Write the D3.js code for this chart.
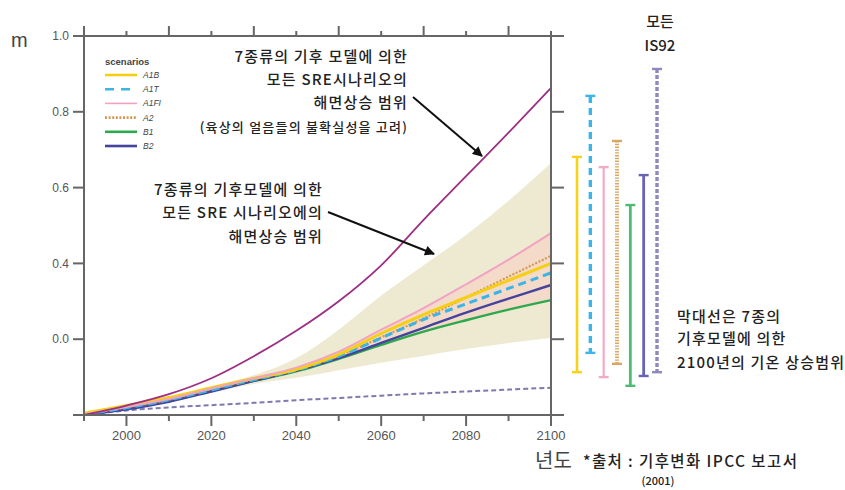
<!DOCTYPE html>
<html>
<head>
<meta charset="utf-8">
<script src="https://cdn.jsdelivr.net/npm/d3@7"></script>
<style>
  html, body { margin: 0; padding: 0; background: #fff; }
  svg { display: block; font-family: "Noto Sans CJK KR", "Noto Sans", sans-serif; }
</style>
</head>
<body>
<svg id="chart" width="845" height="490"></svg>
<script>
// values (metres), one point every 10 years
const years = [1990, 2000, 2010, 2020, 2030, 2040, 2050, 2060, 2070, 2080, 2090, 2100];
const allUpper = [0, 0.025, 0.055, 0.097, 0.155, 0.222, 0.30, 0.395, 0.515, 0.63, 0.745, 0.863];
const bandUpper = [0.004, 0.022, 0.045, 0.075, 0.105, 0.15, 0.225, 0.315, 0.395, 0.475, 0.565, 0.665];
const bandLower = [0, 0.014, 0.033, 0.058, 0.082, 0.098, 0.118, 0.138, 0.156, 0.174, 0.19, 0.203];
const is92Low = [0, 0.012, 0.02, 0.026, 0.032, 0.039, 0.045, 0.051, 0.057, 0.062, 0.067, 0.072];

const scenarioNames = ["A1B", "A1T", "A1FI", "A2", "B1", "B2"];
const a1b = [0.005, 0.025, 0.046, 0.072, 0.097, 0.12, 0.16, 0.215, 0.265, 0.31, 0.355, 0.40];
const a1t = [0.002, 0.019, 0.04, 0.066, 0.093, 0.118, 0.155, 0.203, 0.252, 0.293, 0.334, 0.375];
const a1fi = [0.002, 0.021, 0.042, 0.07, 0.097, 0.125, 0.167, 0.225, 0.282, 0.345, 0.41, 0.48];
const a2 = [0.002, 0.02, 0.04, 0.068, 0.094, 0.12, 0.155, 0.205, 0.255, 0.31, 0.365, 0.42];
const b1 = [0, 0.017, 0.038, 0.064, 0.09, 0.115, 0.148, 0.185, 0.22, 0.25, 0.278, 0.303];
const b2 = [0, 0.015, 0.035, 0.062, 0.09, 0.117, 0.15, 0.19, 0.23, 0.27, 0.307, 0.343];
const scenarioValues = [a1b, a1t, a1fi, a2, b1, b2];

// 2100 ranges shown as bars to the right of the plot
const rangeNames = ["A1B", "A1T", "A1FI", "A2", "B1", "B2", "IS92"];
const rangeHigh = [0.681, 0.842, 0.654, 0.723, 0.554, 0.633, 0.913];
const rangeLow = [0.113, 0.164, 0.100, 0.135, 0.077, 0.103, 0.113];

const yTicks = [0, 0.2, 0.4, 0.6, 0.8, 1.0];
const yTickLabels = ["", "0.0", "0.4", "0.6", "0.8", "1.0"];
const xTickMajor = [2000, 2020, 2040, 2060, 2080, 2100];
const xTickMinor = [1990, 2010, 2030, 2050, 2070, 2090];

const style = {
  A1B:  { color: "#f5cf12", width: 3,   dash: null,  barColor: "#f7d21a", barWidth: 2.6, barDash: null },
  A1T:  { color: "#3bb4e6", width: 3,   dash: "8 5", barColor: "#3ab6ea", barWidth: 3.4, barDash: "7 5" },
  A1FI: { color: "#f2a2c2", width: 2,   dash: null,  barColor: "#f4a9c6", barWidth: 2.2, barDash: null },
  A2:   { color: "#d49a55", width: 2.2, dash: "2 1.6", barColor: "#d8a766", barWidth: 4, barDash: "1.4 1.4" },
  B1:   { color: "#2ea84e", width: 2.4, dash: null,  barColor: "#4dbb72", barWidth: 2.8, barDash: null },
  B2:   { color: "#44449e", width: 2.4, dash: null,  barColor: "#6764b4", barWidth: 2.8, barDash: null },
  IS92: { color: "#7f79b0", width: 2,   dash: "5 3", barColor: "#8d89ba", barWidth: 3.4, barDash: "4 2" }
};

const svg = d3.select("#chart");
const x = d3.scaleLinear().domain([1990, 2100]).range([84, 551]);
const y = d3.scaleLinear().domain([0, 1]).range([415, 36]);
const barX = d3.scalePoint().domain(rangeNames).range([577, 657]);
const axisColor = "#666";
const textColor = "#222";

const idx = d3.range(years.length);
const curve = d3.curveCatmullRom.alpha(0.5);
const line = vals => d3.line().x(i => x(years[i])).y(i => y(vals[i])).curve(curve)(idx);

// outer model band
svg.append("path")
  .attr("d", d3.area().x(i => x(years[i])).y0(i => y(bandLower[i])).y1(i => y(bandUpper[i]))
    .curve(curve)(idx))
  .attr("fill", "#eeead2");

// inner band between highest and lowest scenario from 2030 on
const inner = idx.filter(i => years[i] >= 2030);
svg.append("path")
  .attr("d", d3.area().x(i => x(years[i]))
    .y0(i => y(d3.min(scenarioValues, v => v[i])))
    .y1(i => y(d3.max(scenarioValues, v => v[i])))
    .curve(curve)(inner))
  .attr("fill", "#f4dac8");

svg.append("path").attr("d", line(is92Low))
  .attr("fill", "none").attr("stroke", style.IS92.color)
  .attr("stroke-width", style.IS92.width).attr("stroke-dasharray", style.IS92.dash);

const drawOrder = ["B1", "B2", "A2", "A1T", "A1B", "A1FI"];
drawOrder.forEach(name => {
  const s = style[name];
  svg.append("path").attr("d", line(scenarioValues[scenarioNames.indexOf(name)]))
    .attr("fill", "none").attr("stroke", s.color).attr("stroke-width", s.width)
    .attr("stroke-dasharray", s.dash);
});

svg.append("path").attr("d", line(allUpper))
  .attr("fill", "none").attr("stroke", "#9c2f84").attr("stroke-width", 1.8);

// frame + ticks
const g = svg.append("g").attr("stroke", axisColor).attr("stroke-width", 2);
g.append("rect").attr("x", x(1990)).attr("y", y(1)).attr("width", x(2100) - x(1990))
  .attr("height", y(0) - y(1)).attr("fill", "none");
yTicks.forEach(v => {
  g.append("line").attr("x1", x(1990) - 11).attr("x2", x(1990)).attr("y1", y(v)).attr("y2", y(v));
  g.append("line").attr("x1", x(2100)).attr("x2", x(2100) + 13).attr("y1", y(v)).attr("y2", y(v));
});
xTickMajor.forEach(t => {
  g.append("line").attr("x1", x(t)).attr("x2", x(t)).attr("y1", y(0)).attr("y2", y(0) + 11);
  g.append("line").attr("x1", x(t)).attr("x2", x(t)).attr("y1", y(1)).attr("y2", y(1) - 5);
});
xTickMinor.forEach(t => {
  g.append("line").attr("x1", x(t)).attr("x2", x(t)).attr("y1", y(0)).attr("y2", y(0) + 6);
  g.append("line").attr("x1", x(t)).attr("x2", x(t)).attr("y1", y(1)).attr("y2", y(1) - 10);
});

svg.selectAll("text.ytick").data(yTicks).join("text").attr("class", "ytick")
  .attr("x", 69).attr("y", d => y(d)).attr("dy", "0.35em").attr("text-anchor", "end")
  .attr("font-family", "Liberation Sans, Arial, sans-serif").attr("font-size", 12).attr("fill", "#555")
  .text((d, i) => yTickLabels[i]);
svg.selectAll("text.xtick").data(xTickMajor).join("text").attr("class", "xtick")
  .attr("x", d => x(d)).attr("y", 440).attr("text-anchor", "middle")
  .attr("font-family", "Liberation Sans, Arial, sans-serif").attr("font-size", 13).attr("fill", "#555")
  .text(d => d);

svg.append("text").attr("x", 11).attr("y", 47).attr("font-size", 20).attr("fill", "#444")
  .attr("font-family", "Liberation Sans, Arial, sans-serif").text("m");

// legend
const lg = svg.append("g").attr("font-family", "Liberation Sans, Arial, sans-serif");
lg.append("text").attr("x", 105).attr("y", 65).attr("font-size", 9.5).attr("font-weight", "bold")
  .attr("fill", "#444").text("scenarios");
scenarioNames.forEach((name, i) => {
  const s = style[name];
  const ly = 75 + i * 14.2;
  lg.append("line").attr("x1", 105).attr("x2", 137).attr("y1", ly).attr("y2", ly)
    .attr("stroke", s.color).attr("stroke-width", name === "A1FI" ? 1.6 : 2.6)
    .attr("stroke-dasharray", name === "A1T" ? "9 7" : s.dash);
  lg.append("text").attr("x", 143).attr("y", ly).attr("dy", "0.35em").attr("font-size", 8.5)
    .attr("font-style", "italic").attr("fill", "#444").text(name);
});

// 2100 range bars
rangeNames.forEach((name, i) => {
  const s = style[name];
  const bx = barX(name);
  const bar = svg.append("g").attr("stroke", s.barColor);
  bar.append("line").attr("x1", bx).attr("x2", bx).attr("y1", y(rangeHigh[i])).attr("y2", y(rangeLow[i]))
    .attr("stroke-width", s.barWidth).attr("stroke-dasharray", s.barDash);
  [rangeHigh[i], rangeLow[i]].forEach(v => {
    bar.append("line").attr("x1", bx - 5).attr("x2", bx + 5).attr("y1", y(v)).attr("y2", y(v))
      .attr("stroke-width", 2.4);
  });
});

// annotations
function textBlock(lines, xPos, anchor, spacing = 1.2, weight = 500, fill = textColor) {
  lines.forEach(l => {
    svg.append("text").attr("x", xPos).attr("y", l.y).attr("dy", "0.36em")
      .attr("text-anchor", anchor).attr("font-size", l.size).attr("font-weight", weight)
      .attr("letter-spacing", spacing).attr("fill", fill).text(l.t);
  });
}
textBlock([
  { t: "7종류의 기후 모델에 의한", y: 57, size: 15 },
  { t: "모든 SRE시나리오의", y: 80, size: 15 },
  { t: "해면상승 범위", y: 103, size: 15 },
  { t: "(육상의 얼음들의 불확실성을 고려)", y: 127, size: 13 }
], 408, "end");
textBlock([
  { t: "7종류의 기후모델에 의한", y: 190, size: 15 },
  { t: "모든 SRE 시나리오에의", y: 213, size: 15 },
  { t: "해면상승 범위", y: 237, size: 15 }
], 323, "end");
textBlock([
  { t: "모든", y: 22, size: 15 },
  { t: "IS92", y: 46, size: 15 }
], 660, "middle", 0);
textBlock([
  { t: "막대선은 7종의", y: 317, size: 15 },
  { t: "기후모델에 의한", y: 339, size: 15 },
  { t: "2100년의 기온 상승범위", y: 363, size: 15 }
], 677, "start");
textBlock([{ t: "년도", y: 461, size: 20 }], 535, "start", 0, 400, "#444");
textBlock([{ t: "*출처 : 기후변화 IPCC 보고서", y: 461, size: 15.5 }], 583, "start", 1.4);
textBlock([{ t: "(2001)", y: 481, size: 11 }], 658, "middle", 0);

svg.append("defs").append("marker").attr("id", "head")
  .attr("viewBox", "0 0 10 10").attr("refX", 9).attr("refY", 5)
  .attr("markerWidth", 5.5).attr("markerHeight", 5).attr("orient", "auto")
  .append("path").attr("d", "M0,0 L10,5 L0,10 z").attr("fill", "#111");
[[413, 97, 482, 156], [328, 212, 434, 254]].forEach(a => {
  svg.append("line").attr("x1", a[0]).attr("y1", a[1]).attr("x2", a[2]).attr("y2", a[3])
    .attr("stroke", "#111").attr("stroke-width", 2).attr("marker-end", "url(#head)");
});
</script>
</body>
</html>
